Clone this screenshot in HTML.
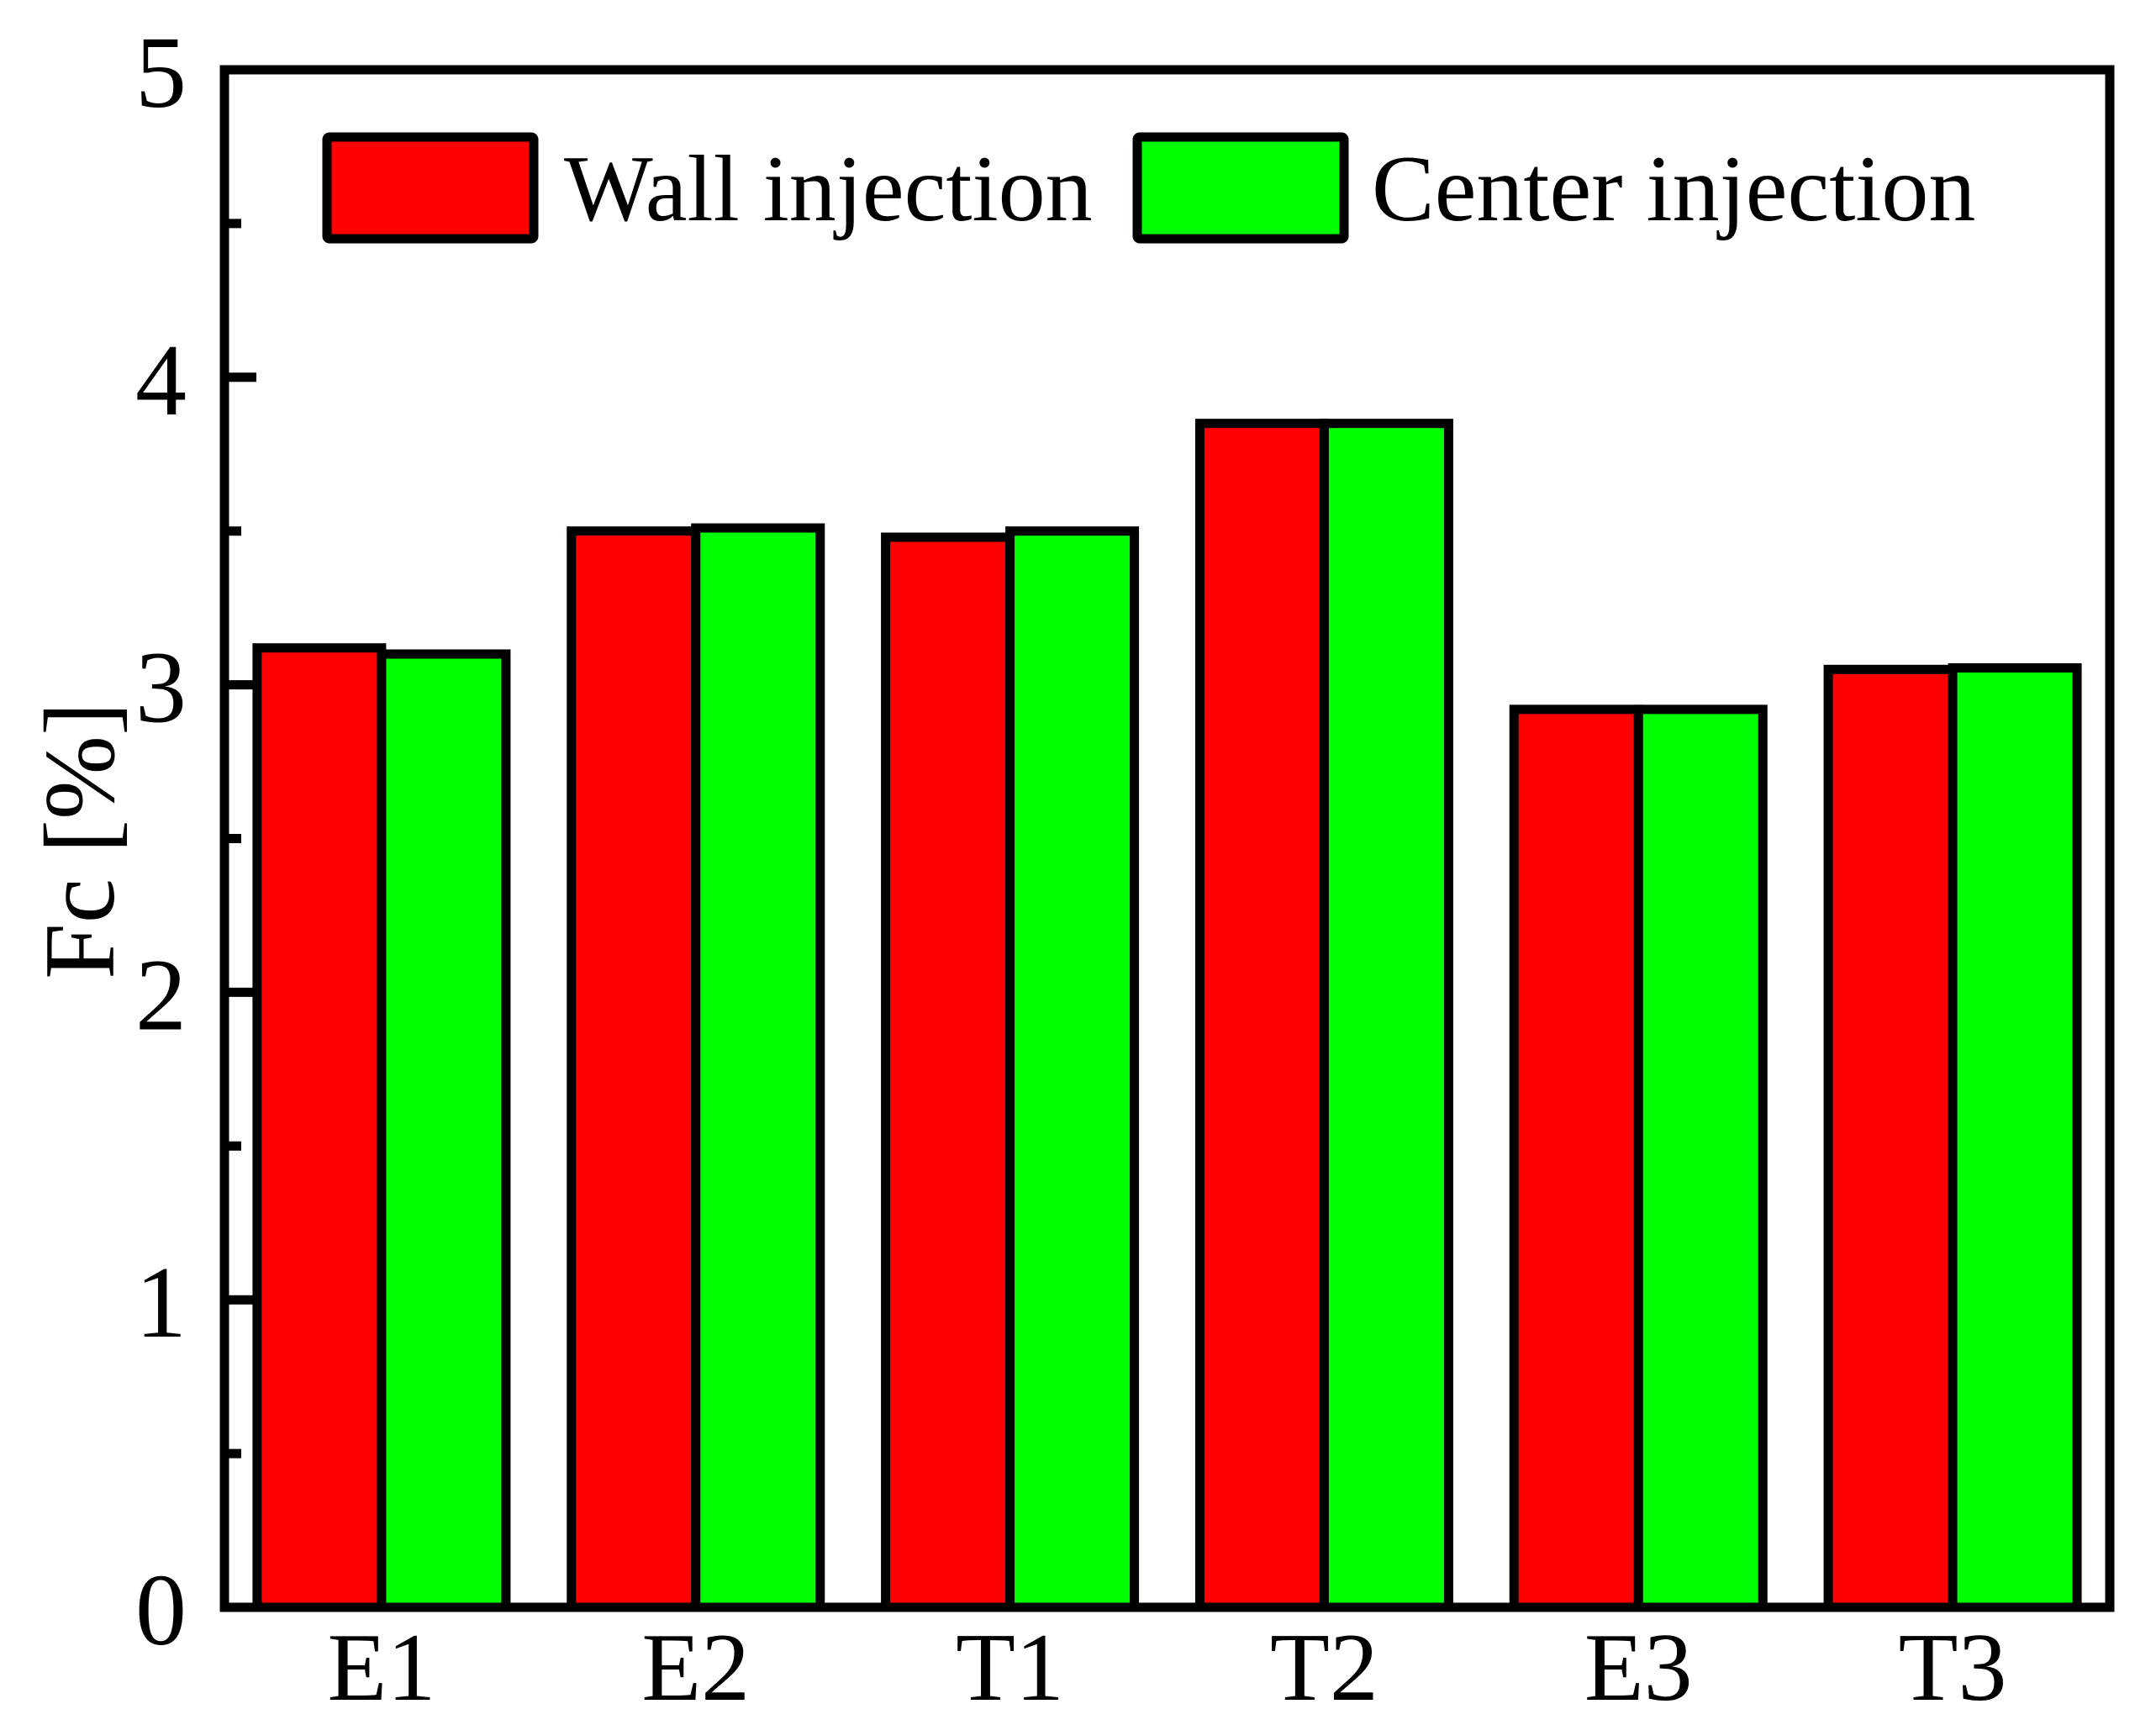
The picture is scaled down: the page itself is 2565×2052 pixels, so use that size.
<!DOCTYPE html>
<html><head><meta charset="utf-8"><style>
html,body{margin:0;padding:0;background:#fff;}
svg{display:block;}
svg text{font-family:"Liberation Serif","Times New Roman",Times,serif;}
</style></head><body>
<svg id="chart" width="2565" height="2052" viewBox="0 0 2565 2052" xmlns="http://www.w3.org/2000/svg">
<g id="bars"></g>
<g id="axes"></g>
<g>
  <g>
    <rect x="389" y="163" width="246" height="121" rx="3" fill="#ff0000" stroke="#000" stroke-width="11"/>
    <text x="671" y="262" font-size="112">Wall injection</text>
  </g>
  <g>
    <rect x="1353" y="163" width="246" height="121" rx="3" fill="#00ff00" stroke="#000" stroke-width="11"/>
    <text x="1632" y="262" font-size="112">Center injection</text>
  </g>
</g>
<text x="0" y="0" font-size="120" text-anchor="middle" transform="translate(135,1000) rotate(-90)">Fc [%]</text>
</svg>
<script>
const categories = ["E1","E2","T1","T2","E3","T3"];
const wallValues = [3.12, 3.50, 3.48, 3.85, 2.92, 3.05];
const centerValues = [3.10, 3.51, 3.50, 3.85, 2.92, 3.055];
const yTicks = [0,1,2,3,4,5];
const yTickLabels = ["0","1","2","3","4","5"];
const yMinorTicks = [0.5,1.5,2.5,3.5,4.5];

const NS = "http://www.w3.org/2000/svg";
const X0 = 267, X1 = 2510, Y0 = 1912, Y1 = 83;
const yMax = 5;
function yScale(v){ return Y0 - (Y0 - Y1) * v / yMax; }
const band = (X1 - X0) / categories.length;
function xCenter(i){ return X0 + band * (i + 0.5); }
const barW = 148;

function mk(tag, attrs){
  const e = document.createElementNS(NS, tag);
  for (const k in attrs) e.setAttribute(k, attrs[k]);
  return e;
}
const bars = document.getElementById('bars');
const axes = document.getElementById('axes');

categories.forEach((c, i) => {
  const cx = xCenter(i);
  const yw = yScale(wallValues[i]);
  const r1 = mk('rect', {x: cx - barW, y: yw, width: barW, height: Y0 - yw, fill: '#ff0000', stroke: '#000', 'stroke-width': 11});
  
  
  bars.appendChild(r1);
  const yc = yScale(centerValues[i]);
  const r2 = mk('rect', {x: cx, y: yc, width: barW, height: Y0 - yc, fill: '#00ff00', stroke: '#000', 'stroke-width': 11});
  
  
  bars.appendChild(r2);
  const t = mk('text', {x: cx, y: 2022, 'font-size': 116, 'text-anchor': 'middle'});
  t.textContent = c;
  
  
  axes.appendChild(t);
});

const frame = mk('rect', {x: X0, y: Y1, width: X1 - X0, height: Y0 - Y1, fill: 'none', stroke: '#000', 'stroke-width': 11});


axes.appendChild(frame);

yTicks.forEach((v, i) => {
  const y = yScale(v);
  const l = mk('line', {x1: X0, x2: X0 + 38, y1: y, y2: y, stroke: '#000', 'stroke-width': 11});
  
  
  axes.appendChild(l);
  const t = mk('text', {x: 222, y: y + 44, 'font-size': 122, 'text-anchor': 'end'});
  t.textContent = yTickLabels[i];
  
  
  axes.appendChild(t);
});
yMinorTicks.forEach(v => {
  const y = yScale(v);
  const l = mk('line', {x1: X0, x2: X0 + 20, y1: y, y2: y, stroke: '#000', 'stroke-width': 11});
  
  
  axes.appendChild(l);
});
</script>
</body></html>
